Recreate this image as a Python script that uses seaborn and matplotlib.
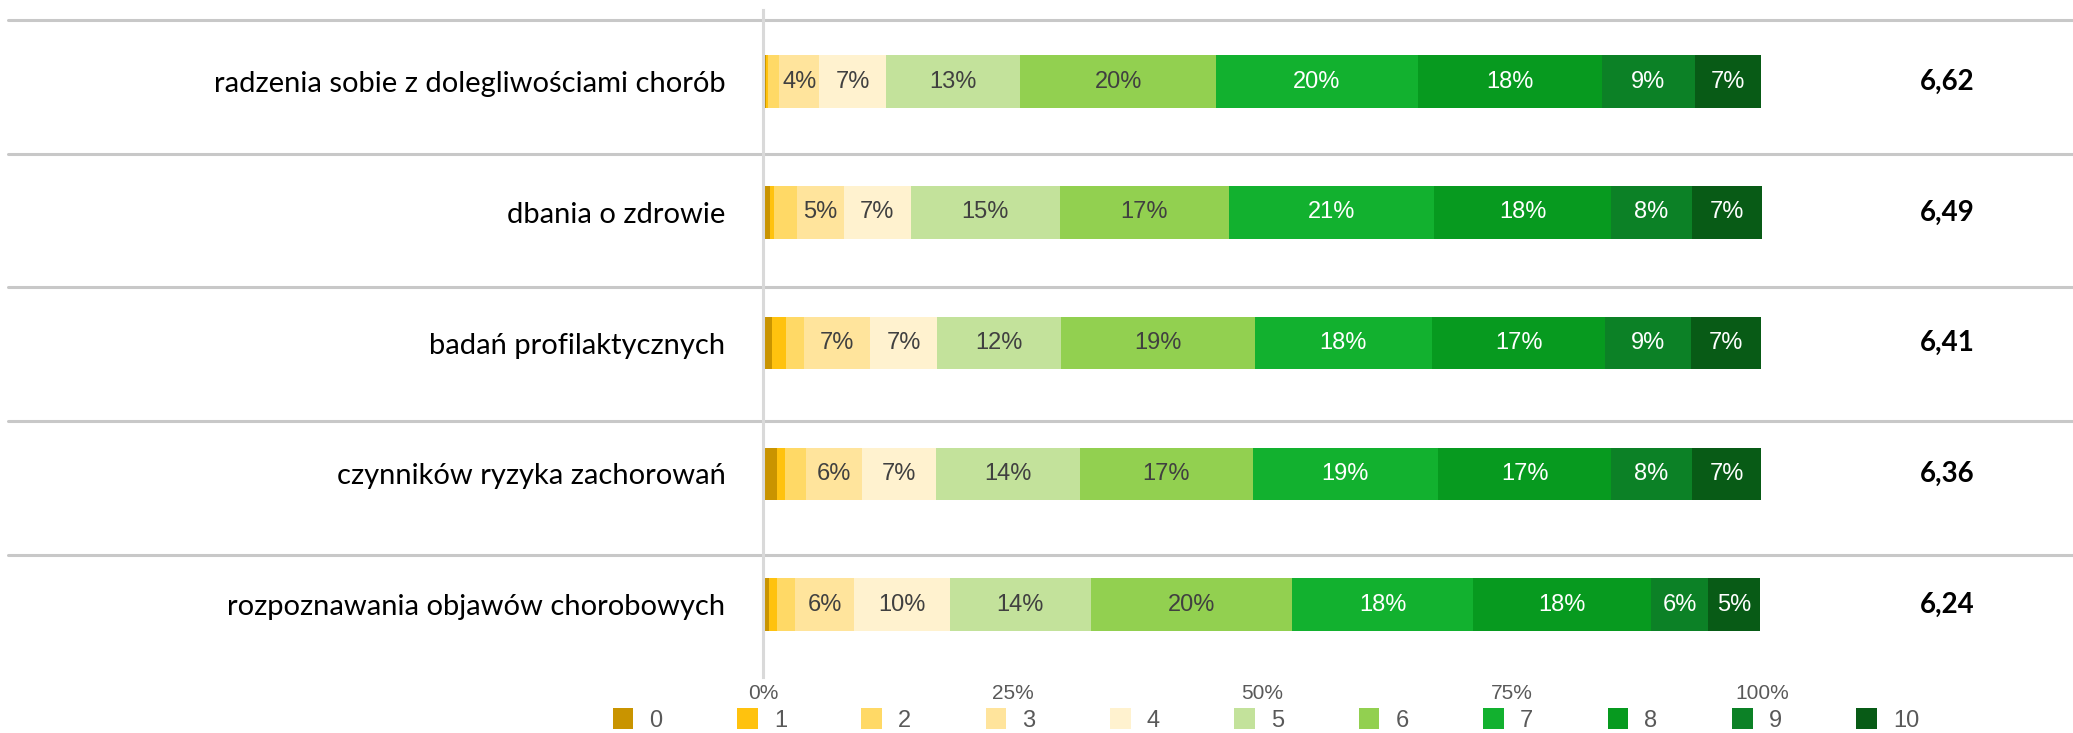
import numpy as np
import matplotlib.pyplot as plt
import pandas as pd
import seaborn as sns
from matplotlib.patches import Patch

# Data (share of answers 0-10, in %)
categories = [
    'radzenia sobie z dolegliwościami chorób',
    'dbania o zdrowie',
    'badań profilaktycznych',
    'czynników ryzyka zachorowań',
    'rozpoznawania objawów chorobowych',
]
levels = ['0', '1', '2', '3', '4', '5', '6', '7', '8', '9', '10']

row_radzenia = [0.3, 0.25, 1.1, 4.0, 6.7, 13.4, 19.6, 20.2, 18.4, 9.3, 6.6]
row_dbania = [0.67, 0.43, 2.3, 4.7, 6.7, 14.9, 16.9, 20.6, 17.7, 8.1, 7.0]
row_badan = [0.93, 1.4, 1.8, 6.6, 6.7, 12.4, 19.4, 17.7, 17.4, 8.6, 7.0]
row_czynnikow = [1.4, 0.8, 2.1, 5.6, 7.4, 14.4, 17.3, 18.6, 17.3, 8.1, 6.9]
row_rozpoznawania = [0.6, 0.8, 1.8, 5.9, 9.6, 14.1, 20.2, 18.1, 17.8, 5.7, 5.2]

means = [6.62, 6.49, 6.41, 6.36, 6.24]
x_ticks = [0, 25, 50, 75, 100]
tick_labels = ['0%', '25%', '50%', '75%', '100%']

colors = ['#C99400', '#FFC20E', '#FFD966', '#FFE49C', '#FFF2CF', '#C3E29B',
          '#92D050', '#12B12F', '#079A1F', '#0C8126', '#085B16']
dark_text = ['3', '4', '5', '6']

rows = [row_radzenia, row_dbania, row_badan, row_czynnikow, row_rozpoznawania]
df = pd.DataFrame(
    [(c, lvl, v) for c, r in zip(categories, rows) for lvl, v in zip(levels, r)],
    columns=['aspekt', 'ocena', 'procent'],
)

sns.set_style('white')

W, H = 2073, 733
fig = plt.figure(figsize=(W / 100, H / 100), dpi=100)
ax = fig.add_axes([763 / W, 1 - 677 / H, 999 / W, 667 / H])

# stacked horizontal bars (seaborn stacks the last hue level first)
sns.histplot(data=df, y='aspekt', hue='ocena', weights='procent',
             multiple='stack', discrete=True, shrink=0.40,
             hue_order=levels[::-1], palette=dict(zip(levels, colors)),
             alpha=1, linewidth=0, legend=False, ax=ax)

ax.set_xlim(0, 100)
ax.set_ylim(4.554, -0.548)
ax.set_xlabel('')
ax.set_ylabel('')

# percentage labels inside segments
for i, r in enumerate(rows):
    r = np.array(r)
    centers = np.cumsum(r) - r / 2
    for lvl, v, cx in zip(levels, r, centers):
        if v >= 3:
            ax.text(cx, i, f'{int(v + 0.5)}%', ha='center', va='center',
                    fontsize=17, family='Liberation Sans',
                    color='#404040' if lvl in dark_text else 'white')
    # mean on the right
    ax.text(118.5, i, f'{means[i]:.2f}'.replace('.', ','), ha='center',
            va='center', fontsize=20, fontweight='bold', family='Lato',
            color='black', clip_on=False)

# row separators
for i in range(len(categories)):
    ax.axhline(-0.472 + 1.023 * i, xmin=-0.756, xmax=1.32, color='#C8C8C8',
               lw=2.2, clip_on=False, zorder=0)

ax.set_xticks(x_ticks, tick_labels)
ax.set_yticks(range(len(categories)), categories)
ax.tick_params(axis='x', length=0, pad=5, labelsize=15, labelcolor='#595959')
ax.tick_params(axis='y', length=0, pad=27, labelsize=21, labelcolor='black')
for lbl in ax.get_xticklabels():
    lbl.set_fontfamily('Liberation Sans')
for lbl in ax.get_yticklabels():
    lbl.set_fontfamily('Lato')

for s in ['top', 'right', 'bottom']:
    ax.spines[s].set_visible(False)
ax.spines['left'].set_color('#D9D9D9')
ax.spines['left'].set_linewidth(2.2)

handles = [Patch(facecolor=c, edgecolor='none', label=l) for c, l in zip(colors, levels)]
leg = fig.legend(handles=handles, loc='center', bbox_to_anchor=(1266 / W, 13 / H),
                 ncol=11, frameon=False, handlelength=0.88,
                 handleheight=1.0, handletextpad=0.68, columnspacing=3.15,
                 borderpad=0.2, prop={'family': 'Liberation Sans', 'size': 17})
for t in leg.get_texts():
    t.set_color('#595959')

fig.savefig('out.png', dpi=100)
